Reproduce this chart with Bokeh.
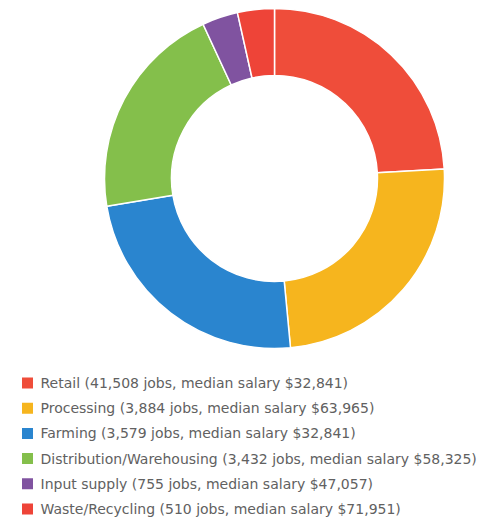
import math
from bokeh.plotting import figure
from bokeh.models import ColumnDataSource, Range1d
from bokeh.core.properties import value
from bokeh.embed import file_html
from bokeh.resources import INLINE

# Data
categories = ["Retail", "Processing", "Farming", "Distribution/Warehousing",
              "Input supply", "Waste/Recycling"]
jobs = ["41,508", "3,884", "3,579", "3,432", "755", "510"]
salaries = ["$32,841", "$63,965", "$32,841", "$58,325", "$47,057", "$71,951"]
# share of the ring (percent) as drawn
shares = [24.1, 24.4, 23.9, 20.7, 3.4, 3.5]
colors = ["#EF4D3A", "#F6B51E", "#2A85CF", "#84BF4B", "#8053A0", "#EE4438"]

W, H = 484, 520
p = figure(width=W, height=H, output_backend="svg", toolbar_location=None,
           x_range=Range1d(0, W), y_range=Range1d(0, H), min_border=0)
p.axis.visible = False
p.grid.visible = False
p.outline_line_color = None
p.background_fill_color = "white"

total = sum(shares)
starts, ends = [], []
cum = 0.0
for s in shares:
    a0 = cum / total * 2 * math.pi
    cum += s
    a1 = cum / total * 2 * math.pi
    starts.append(math.pi / 2 - a0)
    ends.append(math.pi / 2 - a1)

cx, cy = 274, 520 - 178
src = ColumnDataSource(dict(start=starts, end=ends, color=colors))
p.annular_wedge(x=cx, y=cy, inner_radius=103, outer_radius=170,
                start_angle="start", end_angle="end", direction="clock",
                fill_color="color", line_color="white", line_width=1.5,
                source=src)

labels = [f"{c} ({j} jobs, median salary {s})" for c, j, s in zip(categories, jobs, salaries)]
ys = [520 - (382.5 + 25.2 * i) for i in range(len(labels))]
lsrc = ColumnDataSource(dict(x=[27] * len(labels), tx=[40] * len(labels), y=ys,
                             color=colors, label=labels))
p.rect(x="x", y="y", width=11, height=11, fill_color="color", line_color=None, source=lsrc)
p.text(x="tx", y="y", text="label", text_font=value("DejaVu Sans"), text_font_size="14px",
       text_color="#616161", text_baseline="middle", source=lsrc)

open("out.html", "w").write(file_html(p, INLINE))
